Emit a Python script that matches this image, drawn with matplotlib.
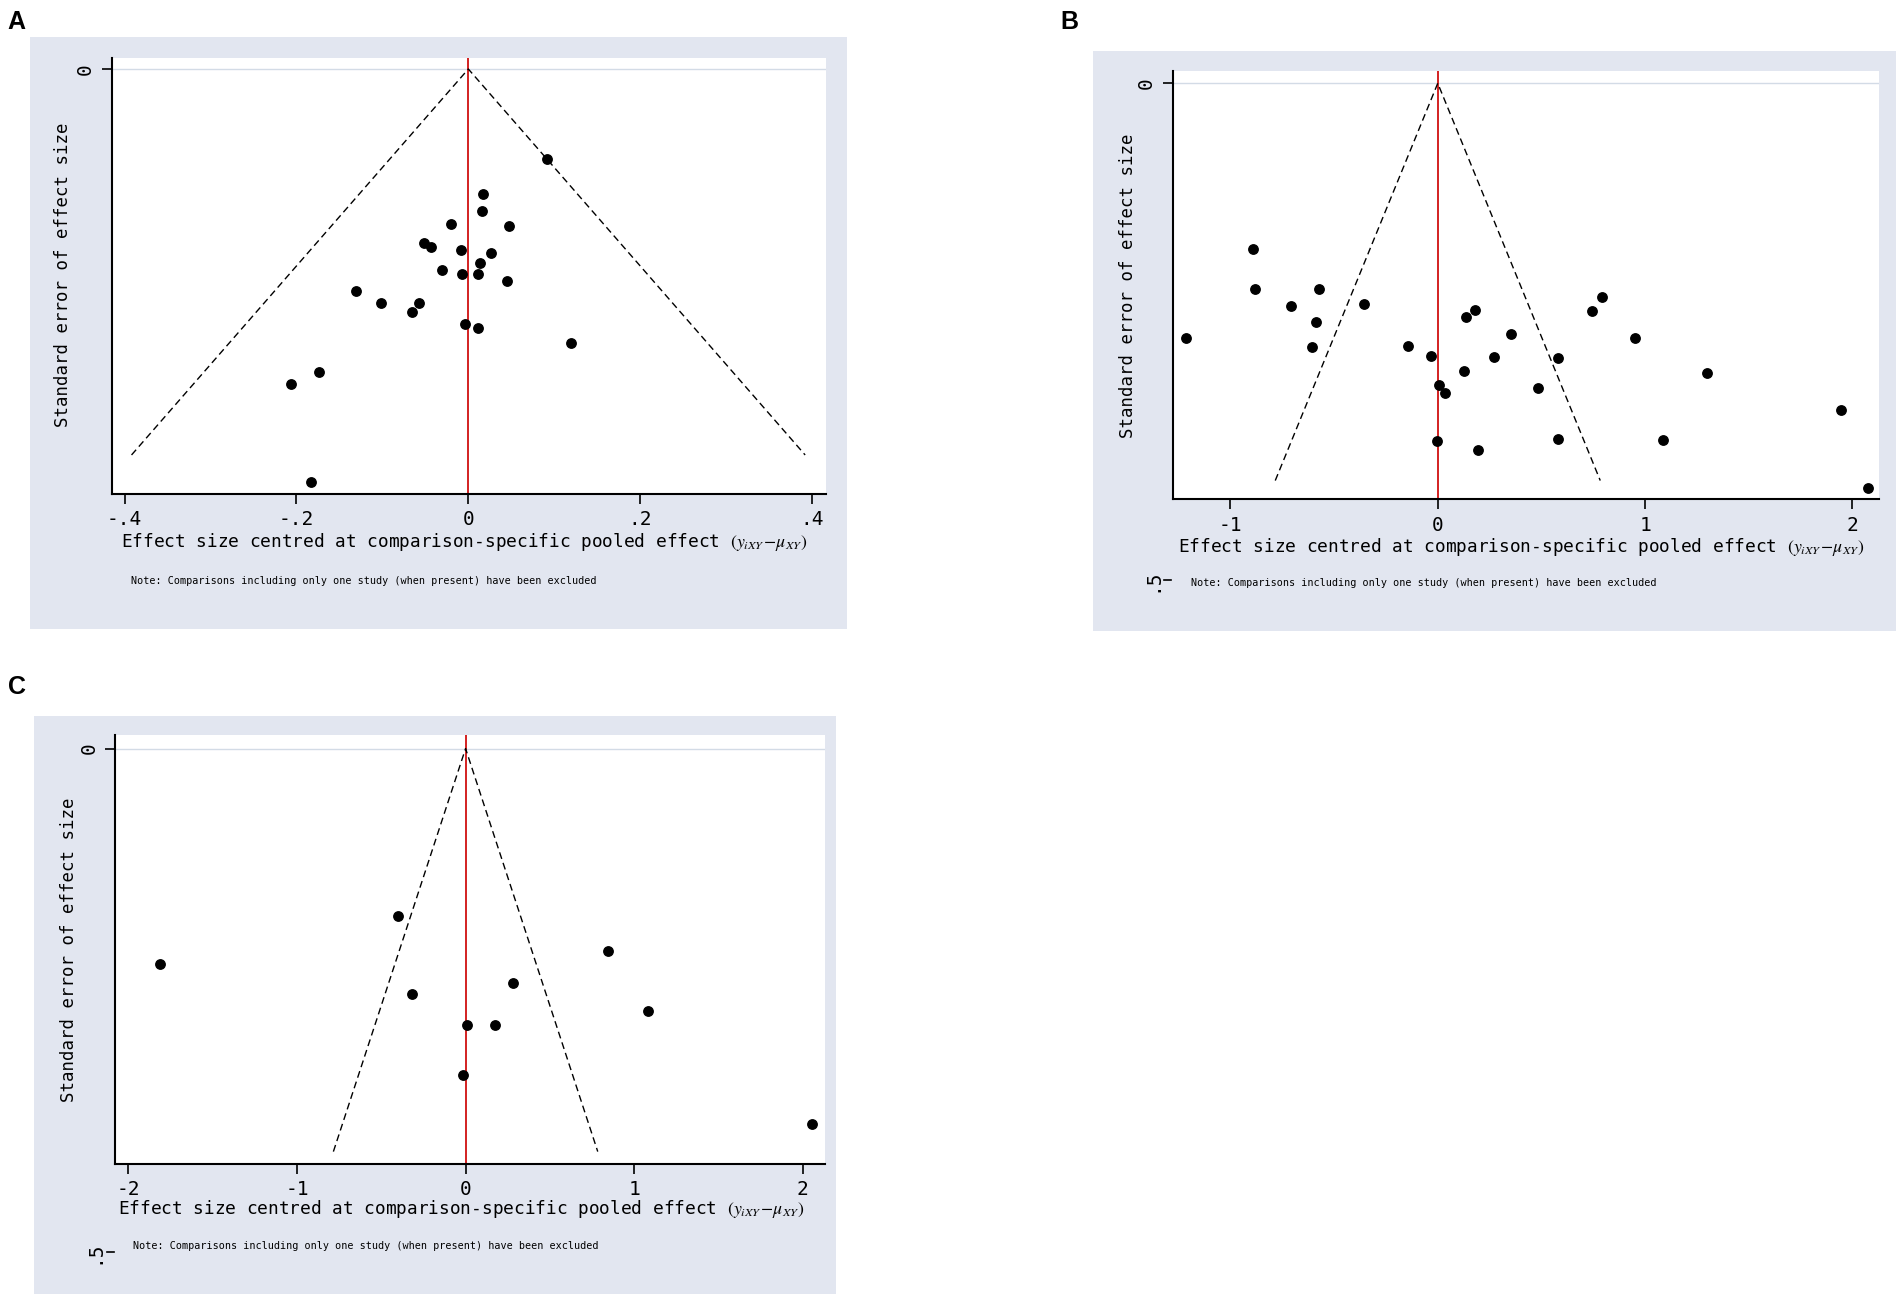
import matplotlib.pyplot as plt
from matplotlib.patches import Rectangle
import matplotlib.transforms as mtransforms

# panel A: centred effect size and its standard error
a_x = [0.092, 0.017, 0.016, -0.020, 0.047, -0.052, -0.043, -0.009, 0.026, 0.013,
       -0.031, -0.007, 0.011, 0.045, -0.131, -0.102, -0.058, -0.066, -0.004, 0.011,
       0.119, -0.174, -0.206, -0.183]
a_se = [0.0467, 0.065, 0.0735, 0.0805, 0.0816, 0.0902, 0.0923, 0.0938, 0.0955, 0.1006,
        0.104, 0.1063, 0.1063, 0.110, 0.115, 0.121, 0.1215, 0.126, 0.132, 0.134,
        0.142, 0.157, 0.163, 0.214]

# panel B
b_x = [-1.214, -0.890, -0.883, -0.709, -0.574, -0.587, -0.605, -0.357, -0.145, -0.031,
       0.005, 0.033, -0.005, 0.125, 0.138, 0.181, 0.196, 0.270, 0.352, 0.485,
       0.582, 0.582, 0.742, 0.791, 0.954, 1.301, 1.087, 1.946, 2.074]
b_se = [0.256, 0.167, 0.2075, 0.224, 0.2067, 0.240, 0.266, 0.222, 0.265, 0.275,
        0.304, 0.312, 0.3605, 0.290, 0.2354, 0.228, 0.3696, 0.2756, 0.2527, 0.3064,
        0.2765, 0.358, 0.2297, 0.2153, 0.256, 0.292, 0.359, 0.3285, 0.407]

# panel C
c_x = [-1.810, -0.402, -0.3165, 0.0066, 0.175, 0.2835, -0.0165, 0.847, 1.081, 2.057]
c_se = [0.2137, 0.1665, 0.2438, 0.2743, 0.2743, 0.2328, 0.3244, 0.201, 0.260, 0.3728]

# largest standard error reached by the 95% funnel
a_funnel_se = 0.2
b_funnel_se = 0.4
c_funnel_se = 0.4

a_ticks = [-0.4, -0.2, 0, 0.2, 0.4]
a_ticklabels = ["-.4", "-.2", "0", ".2", ".4"]
b_ticks = [-1, 0, 1, 2]
b_ticklabels = ["-1", "0", "1", "2"]
c_ticks = [-2, -1, 0, 1, 2]
c_ticklabels = ["-2", "-1", "0", "1", "2"]

MONO = "DejaVu Sans Mono"
BG = "#e2e6f0"
xlab = "Effect size centred at comparison-specific pooled effect " \
       r"$(y_{iXY}\!-\!\mu_{XY})$"
note = "Note: Comparisons including only one study (when present) have been excluded"

plt.rcParams["mathtext.fontset"] = "stix"

fig = plt.figure(figsize=(19.04, 13.04), dpi=100)


def funnel_panel(bg, box, x, se, fse, xlim, ylim, ticks, ticklabels,
                 xlab_pos, ylab_pos, note_pos, half_tick=True):
    fig.patches.append(Rectangle((bg[0], bg[1]), bg[2], bg[3], transform=fig.transFigure,
                                 facecolor=BG, edgecolor="none", zorder=-10))
    ax = fig.add_axes(box)
    ax.set_facecolor("white")
    ax.set_xlim(*xlim)
    ax.set_ylim(*ylim)
    for s in ["top", "right"]:
        ax.spines[s].set_visible(False)
    for s in ["left", "bottom"]:
        ax.spines[s].set_linewidth(1.5)

    ax.axhline(0, color="#d3dbe6", lw=1.0, zorder=1)
    ax.axvline(0, color="#d01010", lw=1.3, zorder=2)
    lim = 1.96 * fse
    ax.plot([-lim, 0, lim], [fse, 0, fse], color="black", lw=1.0,
            linestyle=(0, (5, 3)), zorder=3)
    ax.scatter(x, se, s=46, color="black", zorder=4)

    ax.set_xticks(ticks)
    ax.set_xticklabels(ticklabels, fontfamily=MONO, fontsize=14)
    ax.set_yticks([0])
    ax.set_yticklabels(["0"], fontfamily=MONO, fontsize=14, rotation=90, va="center")
    ax.tick_params(axis="both", direction="out", length=7, width=1.2, pad=5)

    if half_tick:
        # the .5 tick lies outside the plot region, as in the Stata output
        tr = mtransforms.blended_transform_factory(ax.transAxes, ax.transData)
        ax.plot([-0.012, -0.002], [0.5, 0.5], color="black", lw=1.2,
                transform=tr, clip_on=False)
        ax.text(-0.03, 0.5, ".5", transform=tr, rotation=90, ha="center",
                va="center", fontfamily=MONO, fontsize=14, clip_on=False)

    fig.text(xlab_pos[0], xlab_pos[1], xlab, ha="center", va="center",
             fontfamily=MONO, fontsize=12.8)
    fig.text(ylab_pos[0], ylab_pos[1], "Standard error of effect size", rotation=90,
             ha="center", va="center", fontfamily=MONO, fontsize=12.5)
    fig.text(note_pos[0], note_pos[1], note, ha="left", va="center",
             fontfamily=MONO, fontsize=7.3)
    return ax


funnel_panel((0.016, 0.518, 0.429, 0.454), (0.0587, 0.6215, 0.375, 0.334),
             a_x, a_se, a_funnel_se, (-0.415, 0.416), (0.220, -0.0057),
             a_ticks, a_ticklabels, (0.244, 0.584), (0.0332, 0.789), (0.0689, 0.5547),
             half_tick=False)

funnel_panel((0.574, 0.516, 0.422, 0.445), (0.616, 0.617, 0.371, 0.3285),
             b_x, b_se, b_funnel_se, (-1.278, 2.13), (0.419, -0.0123),
             b_ticks, b_ticklabels, (0.799, 0.5805), (0.5925, 0.781), (0.6256, 0.553))

funnel_panel((0.018, 0.0074, 0.421, 0.4436), (0.0606, 0.1076, 0.3728, 0.3284),
             c_x, c_se, c_funnel_se, (-2.077, 2.133), (0.412, -0.013),
             c_ticks, c_ticklabels, (0.2423, 0.0725), (0.0364, 0.272), (0.070, 0.0445))

for lab, px, py in [("A", 0.004, 0.983), ("B", 0.557, 0.983), ("C", 0.004, 0.473)]:
    fig.text(px, py, lab, fontfamily="Liberation Sans", fontweight="bold",
             fontsize=18, ha="left", va="center")

fig.savefig("out.png", dpi=100, facecolor="white")
